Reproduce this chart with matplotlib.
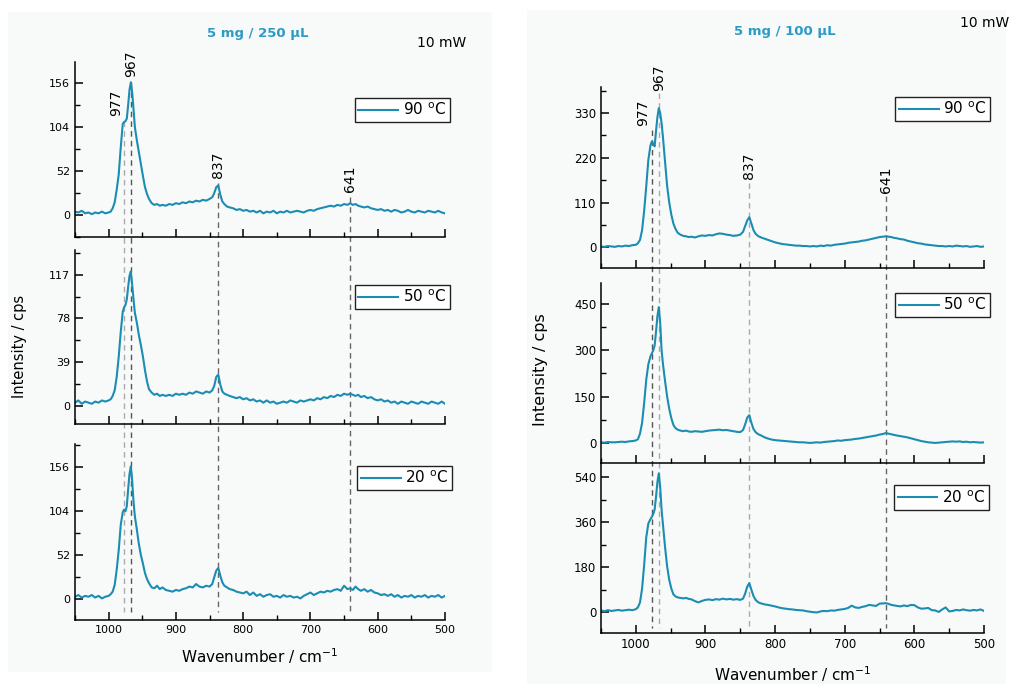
import numpy as np
import matplotlib
matplotlib.use("Agg")
import matplotlib.pyplot as plt
from matplotlib import transforms
from matplotlib.ticker import MultipleLocator
from matplotlib.patches import Rectangle

# wavenumber grid (cm-1), shared by all spectra
wn = [1050, 1045, 1040, 1035, 1030, 1025, 1020, 1015, 1010, 1005, 1000,
      997, 994, 991, 988, 985, 982, 979,
      977, 975, 973, 971, 969, 967, 965, 963, 961,
      958, 955, 952, 949, 946, 943, 940,
      936, 932, 928, 924, 920,
      915, 910, 905, 900, 895, 890, 885, 880, 875, 870, 865, 860, 855, 850,
      846, 843, 840, 837, 834, 831, 828, 824, 820,
      815, 810, 805, 800, 795, 790, 785, 780, 775, 770, 765, 760, 755, 750, 745,
      740, 735, 730, 725, 720, 715, 710, 705, 700, 695, 690, 685, 680, 675, 670,
      665, 660, 655, 650, 645,
      641, 637, 633, 629, 625,
      620, 615, 610, 605, 600, 595, 590, 585, 580, 575, 570, 565, 560, 555, 550,
      545, 540, 535, 530, 525, 520, 515, 510, 505, 500]

# 5 mg / 250 uL
left_90 = [4, 3, 5, 2, 3, 1, 3, 2, 4, 2, 3,
           4, 8, 15, 30, 48, 80, 108,
           110, 111, 114, 130, 148, 157, 145, 125, 104,
           88, 74, 60, 46, 33, 25, 19,
           14, 12, 13, 11, 12,
           11, 13, 12, 14, 13, 15, 14, 16, 15, 17, 16, 18, 17, 19,
           21, 26, 33, 35, 24, 16, 13, 10, 9,
           8, 6, 7, 5, 6, 4, 5, 3, 5, 2, 4, 3, 5, 2, 4, 3, 5, 3, 4, 5, 4, 3, 5, 6, 5,
           7, 8, 9, 10, 11, 10, 12, 11, 13, 12,
           14, 12, 13, 11, 10,
           9, 10, 8, 7, 6, 7, 5, 6, 4, 6, 5, 3, 4, 6, 4, 3, 5, 4, 3, 5, 4, 3, 5, 3, 2]
left_50 = [3, 5, 2, 4, 3, 2, 4, 3, 5, 4, 5,
           6, 9, 14, 26, 44, 66, 84,
           88, 90, 95, 106, 116, 120, 108, 95, 83,
           74, 63, 54, 44, 32, 22, 15,
           12, 10, 11, 9, 10,
           9, 10, 9, 11, 10, 11, 10, 12, 11, 13, 12, 11, 13, 12,
           14, 18, 26, 28, 19, 13, 11, 10, 9,
           8, 7, 8, 6, 7, 5, 6, 4, 5, 3, 5, 3, 4, 2, 3, 4, 3, 5, 4, 3, 5, 4, 5, 6, 5,
           7, 6, 8, 7, 9, 8, 10, 9, 11, 10,
           11, 10, 9, 10, 8,
           9, 7, 8, 6, 5, 6, 4, 5, 3, 4, 2, 4, 3, 2, 4, 3, 2, 4, 3, 2, 4, 3, 2, 4, 2]
left_20 = [3, 5, 2, 4, 3, 5, 2, 4, 1, 3, 4,
           6, 9, 17, 35, 58, 88, 103,
           106, 104, 110, 130, 148, 157, 140, 115, 98,
           82, 65, 52, 42, 31, 24, 19,
           14, 13, 16, 12, 14,
           11, 10, 9, 11, 10, 12, 13, 15, 14, 18, 15, 14, 16, 15,
           18, 26, 34, 37, 28, 20, 16, 14, 12,
           11, 9, 8, 7, 9, 5, 8, 4, 6, 3, 5, 6, 3, 4, 2, 5, 3, 4, 2, 3, 1, 4, 6, 8, 5,
           7, 9, 8, 10, 9, 11, 12, 10, 16, 12,
           13, 11, 15, 12, 10,
           12, 9, 11, 8, 7, 5, 6, 4, 6, 3, 5, 2, 4, 3, 5, 2, 4, 3, 5, 2, 4, 3, 5, 2, 4]

# 5 mg / 100 uL
right_90 = [2, 1, 3, 2, 1, 3, 2, 4, 3, 5, 6,
            10, 18, 42, 90, 150, 215, 250,
            260, 255, 248, 285, 320, 342, 330, 305, 270,
            210, 150, 110, 80, 58, 45, 36,
            31, 28, 27, 25, 26,
            24, 27, 29, 28, 30, 29, 32, 34, 33, 31, 30, 28, 29, 31,
            38, 52, 66, 74, 58, 42, 33, 27, 24,
            21, 18, 15, 12, 10, 8, 7, 6, 5, 4, 4, 3, 3, 2, 3, 2, 4, 3, 5, 4, 6, 7, 8, 9, 11,
            12, 13, 14, 16, 17, 19, 21, 23, 25, 26,
            27, 26, 25, 23, 22,
            20, 19, 16, 14, 12, 10, 9, 7, 6, 5, 4, 3, 3, 2, 3, 2, 4, 3, 2, 3, 1, 2, 3, 1, 2]
right_50 = [2, 1, 3, 2, 2, 3, 4, 3, 5, 6, 8,
            12, 30, 65, 130, 205, 255, 280,
            290, 300, 315, 360, 410, 440, 390, 300, 255,
            200, 150, 110, 80, 58, 48, 43,
            40, 38, 40, 37, 36,
            38, 37, 36, 38, 40, 41, 42, 43, 41, 42, 40, 38, 36, 35,
            42, 60, 82, 90, 65, 45, 35, 28, 24,
            18, 14, 11, 9, 8, 7, 6, 5, 4, 3, 2, 2, 1, 0, 1, 2, 1, 3, 4, 5, 6, 8, 7, 9, 10,
            11, 13, 14, 16, 18, 20, 22, 24, 27, 29,
            32, 30, 28, 26, 24,
            22, 20, 18, 15, 12, 9, 6, 4, 2, 1, 0, 1, 2, 3, 4, 5, 4, 5, 3, 4, 2, 3, 2, 1, 2]
right_20 = [8, 5, 9, 6, 8, 10, 7, 9, 11, 9, 13,
            20, 40, 95, 190, 300, 355, 372,
            381, 392, 410, 460, 520, 555, 500, 410, 350,
            260, 183, 130, 95, 72, 64, 60,
            58, 56, 58, 54, 52,
            45, 40, 46, 50, 52, 49, 53, 51, 55, 52, 54, 51, 53, 50,
            55, 75, 103, 117, 90, 65, 50, 40, 36,
            32, 30, 27, 24, 20, 17, 15, 13, 12, 10, 9, 8, 5, 3, 1, 0, 4, 6, 5, 8, 7, 10, 12, 14, 18,
            27, 20, 18, 22, 25, 30, 28, 26, 35, 36,
            37, 34, 30, 28, 26,
            24, 28, 25, 30, 29, 20, 15, 16, 18, 9, 8, 2, 12, 20, 4, 6, 10, 8, 12, 9, 7, 10, 8, 12, 6]

temps = ['90', '50', '20']
peaks = [977, 967, 837, 641]

W, H = 1011, 684
fig = plt.figure(figsize=(W / 100, H / 100), dpi=100)
plt.rcParams['font.family'] = 'DejaVu Sans'

teal = '#1c8db2'
title_col = '#2b9bc6'


def box(x0, x1, y0, y1):
    # pixel box -> figure fraction rect
    return [x0 / W, 1 - y1 / H, (x1 - x0) / W, (y1 - y0) / H]


# faint panel backgrounds (behind the axes)
for (x0, x1, y0, y1) in [(8, 492, 12, 672), (527, 1006, 10, 684)]:
    fig.patches.append(Rectangle((x0 / W, 1 - y1 / H), (x1 - x0) / W, (y1 - y0) / H,
                                 transform=fig.transFigure, facecolor='#f8fafa',
                                 edgecolor='none', zorder=-10))


def panel(x0, x1, rows, series, ylims, ysteps, leg_anchor, tick_fs,
          lab_y, line_y, line_cols, title, title_xy, mw_xy, ylab_xy, ylab_fs, xlab_y):
    axes = []
    for i, (y0, y1) in enumerate(rows):
        ax = fig.add_axes(box(x0, x1, y0, y1))
        ax.patch.set_alpha(0)
        ax.plot(wn, series[i], color=teal, lw=1.5, label=temps[i] + ' $^{\\mathrm{o}}$C')
        ax.set_xlim(1050, 500)
        ax.set_ylim(*ylims[i])
        ax.yaxis.set_major_locator(MultipleLocator(ysteps[i]))
        ax.yaxis.set_minor_locator(MultipleLocator(ysteps[i] / 2))
        ax.xaxis.set_major_locator(MultipleLocator(100))
        ax.xaxis.set_minor_locator(MultipleLocator(50))
        for s in ['top', 'right']:
            ax.spines[s].set_visible(False)
        for s in ['left', 'bottom']:
            ax.spines[s].set_linewidth(1.1)
        ax.tick_params(which='major', direction='in', length=6, width=1.1, labelsize=tick_fs)
        ax.tick_params(which='minor', direction='in', length=3.5, width=1.0)
        if i < 2:
            ax.tick_params(axis='x', labelbottom=False)
        leg = ax.legend(loc='upper right', bbox_to_anchor=leg_anchor[i], borderaxespad=0,
                        fontsize=11, handlelength=2.6, borderpad=0.25, handletextpad=0.3,
                        fancybox=False, edgecolor='#222222', framealpha=1, facecolor='white')
        leg.get_frame().set_linewidth(1.0)
        axes.append(ax)

    top = axes[0]
    trans = transforms.blended_transform_factory(top.transData, fig.transFigure)
    for k, p in enumerate(peaks):
        top.plot([p, p], [1 - line_y[k] / H, 1 - line_y[-1] / H], transform=trans,
                 clip_on=False, color=line_cols[k], lw=1.0, ls=(0, (4, 3)), zorder=1)
        dx = -6 if p == 977 else 0
        top.annotate(str(p), xy=(p, 1 - lab_y[k] / H), xycoords=trans,
                     xytext=(dx, 0), textcoords='offset points',
                     rotation=90, ha='center', va='center', fontsize=10)

    fig.text(title_xy[0] / W, 1 - title_xy[1] / H, title, color=title_col,
             fontsize=9.5, fontweight='bold', ha='center', va='center')
    fig.text(mw_xy[0] / W, 1 - mw_xy[1] / H, '10 mW', fontsize=10, ha='center', va='center')
    fig.text(ylab_xy[0] / W, 1 - ylab_xy[1] / H, 'Intensity / cps', rotation=90,
             fontsize=ylab_fs, ha='center', va='center')
    fig.text((x0 + x1) / 2 / W, 1 - xlab_y / H, 'Wavenumber / cm$^{-1}$',
             fontsize=11, ha='center', va='center')
    return axes


panel(75, 445,
      rows=[(62, 237), (250, 424), (444, 620)],
      series=[left_90, left_50, left_20],
      ylims=[(-26, 181), (-16, 139), (-24.5, 183.5)],
      ysteps=[52, 39, 52],
      leg_anchor=[(1.013, 0.794), (1.013, 0.799), (1.02, 0.875)],
      tick_fs=8,
      lab_y=[103, 64, 165, 179],
      line_y=[121, 82, 183, 197, 612],
      line_cols=['#aaaaaa', '#555555', '#666666', '#666666'],
      title='5 mg / 250 \u03bcL', title_xy=(258, 33), mw_xy=(442, 43),
      ylab_xy=(20, 346), ylab_fs=10.5, xlab_y=656)

panel(601, 984,
      rows=[(87, 268), (283, 463), (463, 633)],
      series=[right_90, right_50, right_20],
      ylims=[(-51, 394), (-65, 518), (-82, 596)],
      ysteps=[110, 150, 180],
      leg_anchor=[(1.016, 0.946), (1.016, 0.946), (1.013, 0.869)],
      tick_fs=8.5,
      lab_y=[113, 78, 166, 180],
      line_y=[130, 93, 183, 196, 628],
      line_cols=['#555555', '#aaaaaa', '#aaaaaa', '#666666'],
      title='5 mg / 100 \u03bcL', title_xy=(785, 32), mw_xy=(985, 23),
      ylab_xy=(540, 370), ylab_fs=11.5, xlab_y=674)

plt.savefig('out.png', dpi=100)
